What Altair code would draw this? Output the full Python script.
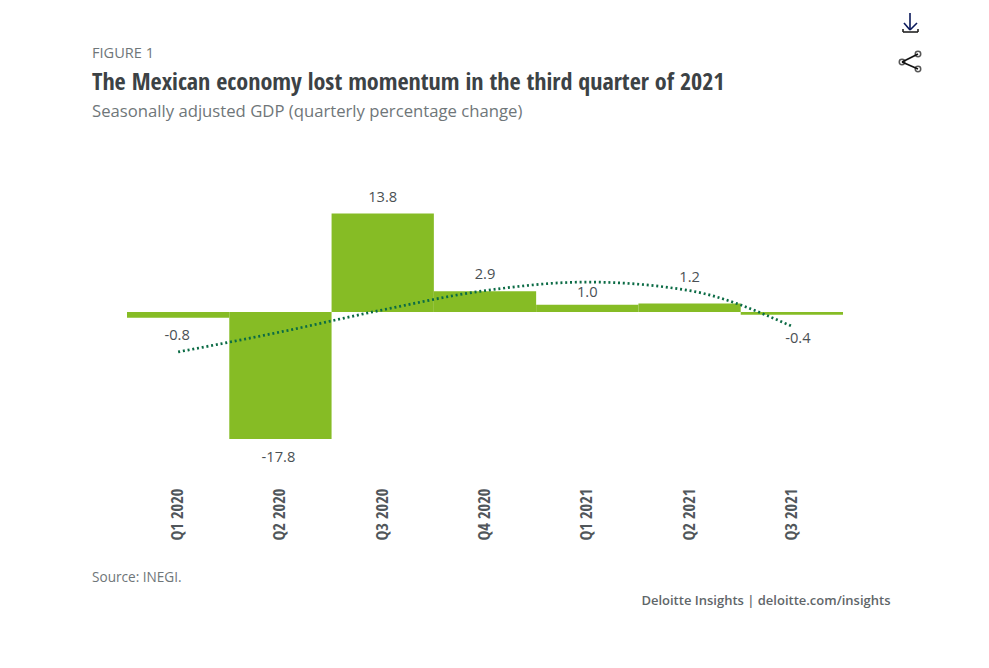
import altair as alt
import pandas as pd

quarters = ["Q1 2020", "Q2 2020", "Q3 2020", "Q4 2020", "Q1 2021", "Q2 2021", "Q3 2021"]
gdp_change = [-0.8, -17.8, 13.8, 2.9, 1.0, 1.2, -0.4]
gdp_labels = ["-0.8", "-17.8", "13.8", "2.9", "1.0", "1.2", "-0.4"]
trend = [-5.6, -2.8, 0.3, 3.0, 4.2, 3.0, -2.0]

GREEN = "#86bc25"
DOT = "#0b6b45"
DARK = "#3c4245"
GREY = "#6f7679"
NARROW = "'Open Sans Condensed','DejaVu Sans Condensed','Liberation Sans',sans-serif"
BODY = "Open Sans"

L, T, W, H = 127, 150, 716, 330
def px(v): return v - L
def py(v): return v - T

df = pd.DataFrame({"q": quarters, "v": gdp_change, "t": trend, "lab": gdp_labels})
x = alt.X("q:N", sort=quarters, scale=alt.Scale(paddingInner=0, paddingOuter=0),
          axis=alt.Axis(title=None, labelAngle=-90, labelFont=NARROW, labelFontWeight="bold",
                        labelFontSize=16.5, labelColor="#50565a", labelPadding=8, ticks=False,
                        domain=False, grid=False, labelAlign="right", labelBaseline="middle"))
y = alt.Y("v:Q", scale=alt.Scale(domain=[-23.56, 22.72], nice=False, zero=False), axis=None)

bars = alt.Chart(df).mark_bar(color=GREEN).encode(x=x, y=y, y2=alt.datum(0))
line = alt.Chart(df).mark_line(color=DOT, strokeWidth=2.7, strokeDash=[2.0, 2.8], interpolate="monotone").encode(
    x=alt.X("q:N", sort=quarters), y=alt.Y("t:Q"))

label_shift = {
    "Q1 2020": (-1, 18), "Q2 2020": (-2, 19), "Q3 2020": (0, -16), "Q4 2020": (0, -16),
    "Q1 2021": (0, -12), "Q2 2021": (0, -25), "Q3 2021": (6, 24),
}
labels = []
for q, (dx, dy) in label_shift.items():
    labels.append(
        alt.Chart(df[df.q == q]).mark_text(font=BODY, fontSize=14.7, color="#4a5054", dx=dx, dy=dy, baseline="middle")
        .encode(x=alt.X("q:N", sort=quarters), y=alt.Y("v:Q"), text=alt.Text("lab:N"))
    )

def text(s, xp, yp, **kw):
    return alt.Chart(pd.DataFrame({"s": [s]})).mark_text(baseline="middle", **kw).encode(
        x=alt.value(px(xp)), y=alt.value(py(yp)), text="s:N")

texts = [
    text("FIGURE 1", 92, 54, font=BODY, fontSize=14.6, color=GREY, align="left"),
    text("The Mexican economy lost momentum in the third quarter of 2021", 92, 83, font=NARROW,
         fontSize=24.1, fontWeight="bold", color=DARK, align="left"),
    text("Seasonally adjusted GDP (quarterly percentage change)", 92, 112, font=BODY, fontSize=16.7,
         color=GREY, align="left"),
    text("Source: INEGI.", 92, 578, font=BODY, fontSize=13.6, color=GREY, align="left"),
    text("Deloitte Insights | deloitte.com/insights", 890.5, 601, font=BODY, fontSize=13, fontWeight=600,
         color="#5f6669", align="right"),
]

def seg(x1, y1, x2, y2, color="#111a3a", width=1.6):
    return alt.Chart(pd.DataFrame({"a": [0]})).mark_rule(color=color, strokeWidth=width).encode(
        x=alt.value(px(x1)), x2=alt.value(px(x2)), y=alt.value(py(y1)), y2=alt.value(py(y2)))

def dot(xp, yp):
    return alt.Chart(pd.DataFrame({"a": [0]})).mark_point(color="#111", filled=False, size=30, strokeWidth=1.5).encode(
        x=alt.value(px(xp)), y=alt.value(py(yp)))

icons = [
    seg(910, 13, 910, 30, "#0b1a5b"), seg(904, 23, 910, 30, "#0b1a5b"), seg(917, 23, 910, 30, "#0b1a5b"),
    seg(903, 32, 918, 32, "#222"), seg(903, 29, 903, 32, "#222"), seg(918, 29, 918, 32, "#222"),
    seg(902, 62, 918, 54, "#111"), seg(902, 62, 918, 69, "#111"),
    dot(902, 62), dot(918, 54), dot(918, 69),
]

chart = alt.layer(bars, line, *labels, *texts, *icons).properties(
    width=W, height=H,
    padding={"left": L - 8, "top": T - 8, "right": 973 - (L - 8) - W, "bottom": 644 - (T - 8) - H},
    autosize=alt.AutoSizeParams(type="none"),
    background="white",
).configure_view(stroke=None)

chart.save("out.html", embed_options={"renderer": "svg", "actions": False})
